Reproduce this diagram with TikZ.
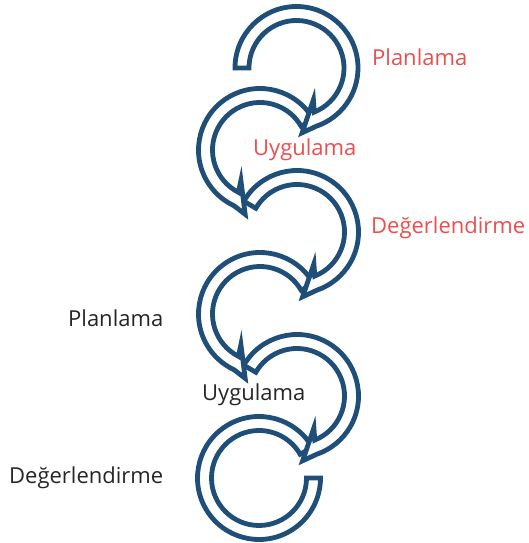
\documentclass[tikz,border=0pt]{standalone}
\usepackage{fontspec}
\setmainfont{Open Sans}
\usetikzlibrary{positioning}
\definecolor{bandblue}{RGB}{31,78,121}
\definecolor{labelred}{RGB}{236,78,78}
\definecolor{labelgrey}{RGB}{38,38,38}
\newcommand{\Ro}{61.5}
\newcommand{\Ri}{47.5}

\tikzset{
  band/.style={draw=bandblue, line width=4.8pt, fill=white, line join=miter},
  lbl/.style={anchor=base west, inner sep=0pt, font=\fontsize{22}{26}\selectfont},
  % turn going clockwise, bulge on the right
  rturn/.pic={
    \path[band] (#1:\Ro) arc[start angle=#1, end angle=-71, radius=\Ro]
      -- (-85:65) -- (-62:36) -- (-68:\Ri)
      arc[start angle=-68, end angle=#1, radius=\Ri] -- cycle;
  },
  % turn going anticlockwise, bulge on the left
  lturn/.pic={
    \path[band] (#1:\Ro) arc[start angle=#1, end angle=245, radius=\Ro]
      -- (257:66) -- (238:36) -- (243:\Ri)
      arc[start angle=243, end angle=#1, radius=\Ri] -- cycle;
  },
  % last turn, flat end
  lend/.pic={
    \path[band] (#1:\Ro) arc[start angle=#1, end angle=360, radius=\Ro]
      -- (360:\Ri) arc[start angle=360, end angle=#1, radius=\Ri] -- cycle;
  }
}

\begin{document}
\begin{tikzpicture}[x=1pt, y=1pt]
\useasboundingbox (0,0) rectangle (529,543);

% bottom turns first, so each head covers the next tail
\pic at (259,65) {lend=30};
\pic at (297,147) {rturn=150};
\pic at (260,229) {lturn=30};
\pic at (297,311) {rturn=150};
\pic at (260,393) {lturn=30};
\pic at (296.5,475) {rturn=180};

\node[lbl, text=labelred] (plan1) at (372,477) {Planlama};
\node[lbl, text=labelred] (uyg1) at (253,387) {Uygulama};
\node[lbl, text=labelred] (deg1) at (371,309) {Değerlendirme};
\node[lbl, text=labelgrey] (plan2) at (68,216) {Planlama};
\node[lbl, text=labelgrey] (uyg2) at (202,142) {Uygulama};
\node[lbl, text=labelgrey] (deg2) at (9,59) {Değerlendirme};

\end{tikzpicture}
\end{document}
